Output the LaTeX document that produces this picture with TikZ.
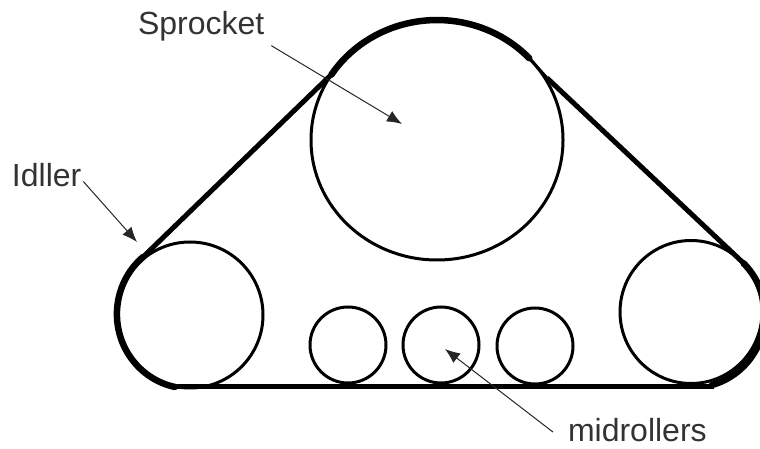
\documentclass[tikz,border=0pt]{standalone}
\usepackage{fontspec}
\setmainfont{Liberation Sans}
\usetikzlibrary{arrows.meta,shapes.geometric}
\tikzset{
  wheel/.style={draw=black,ellipse,line width=3pt,inner sep=0pt,outer sep=0pt,fill=none},
  belt/.style={draw=black,line width=5pt,line cap=butt,line join=round},
  beltheavy/.style={draw=black,line width=6.5pt,line cap=round},
  beltthin/.style={draw=black,line width=3pt},
  lbl/.style={font=\fontsize{32}{32}\selectfont,text=black!80,inner sep=0pt,outer sep=0pt},
  pointer/.style={draw=black!85,line width=1pt,-{Latex[length=15pt,width=12pt]}}
}
\begin{document}
\begin{tikzpicture}[x=1pt,y=1pt]
\useasboundingbox (0,0) rectangle (760,449);
% wheels
\node[wheel,minimum width=252pt,minimum height=240pt] (sprocket) at (437,309) {};
\node[wheel,minimum width=146pt,minimum height=146pt] (idlerL) at (190,134) {};
\node[wheel,minimum width=142pt,minimum height=143pt] (idlerR) at (691,137) {};
\node[wheel,minimum width=76pt,minimum height=76pt] (rollA) at (348,104) {};
\node[wheel,minimum width=76pt,minimum height=76pt] (rollB) at (441,104) {};
\node[wheel,minimum width=76pt,minimum height=76pt] (rollC) at (535,103) {};
% belt
\coordinate (bl) at (172,62.5);
\coordinate (br) at (714,62.5);
\coordinate (ras) at (712,64);
\coordinate (rae) at (743.6,185.8);
\coordinate (re) at (547,371);
\coordinate (ta) at (529.2,390.8);
\coordinate (tb) at (331.3,374.4);
\coordinate (ls) at (143,192);
\draw[belt] (bl) -- (br);
\draw[beltheavy] (ras) arc[start angle=-74,end angle=45,radius=73];
\draw[belt] (rae) -- (re);
\draw[beltthin] (re) -- (ta);
\draw[beltheavy] (ta) arc[start angle=43,end angle=147,x radius=126,y radius=120];
\draw[belt] (tb) -- (ls);
\draw[beltheavy] (ls) arc[start angle=130,end angle=258,x radius=73,y radius=74.5];
% labels
\node[lbl,anchor=base west] (lblS) at (138,414) {Sprocket};
\node[lbl,anchor=base west] (lblI) at (12,262) {Idller};
\node[lbl,anchor=base west] (lblM) at (568,7.5) {midrollers};
% pointers
\coordinate (tipS) at (402,325);
\coordinate (tipI) at (137,207);
\coordinate (tipM) at (445,100);
\draw[pointer] ([shift={(7,-4)}]lblS.south east) -- (tipS);
\draw[pointer] ([shift={(2,-6)}]lblI.east) -- (tipI);
\draw[pointer] ([shift={(-15,-2)}]lblM.west) -- (tipM);
\end{tikzpicture}
\end{document}
